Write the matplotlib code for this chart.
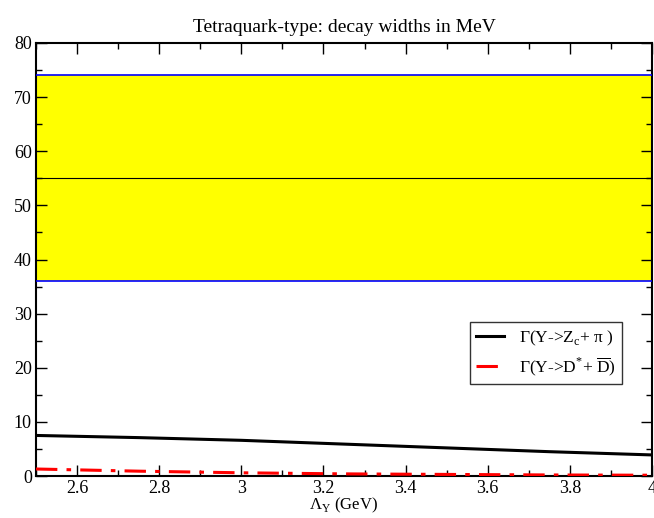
import numpy as np
import matplotlib
matplotlib.use('Agg')
import matplotlib.pyplot as plt
from matplotlib.ticker import MultipleLocator

plt.rcParams['font.family'] = ['Liberation Serif', 'DejaVu Serif']
plt.rcParams['mathtext.fontset'] = 'custom'
plt.rcParams['mathtext.rm'] = 'Liberation Serif'

# data
lam = [2.5, 2.75, 3.0, 3.25, 3.5, 3.75, 4.0]
width_zc_pi = [7.5, 7.1, 6.6, 5.9, 5.2, 4.5, 3.9]
width_dstar_d = [1.3, 0.9, 0.6, 0.4, 0.3, 0.2, 0.15]
exp_central = 55
exp_low = 36
exp_high = 74

fig = plt.figure(figsize=(6.54, 5.18), dpi=100)
ax = fig.add_axes([0.055, 0.081, 0.942, 0.836])

ax.axhspan(exp_low, exp_high, color='yellow', lw=0, zorder=0)
ax.axhline(exp_high, color='blue', lw=1.2, zorder=3)
ax.axhline(exp_low, color='blue', lw=1.2, zorder=3)
ax.axhline(exp_central, color='black', lw=0.8, zorder=3)

ax.plot(lam, width_zc_pi, color='black', lw=2.2, zorder=4, label='Γ(Y->Z$_{\\rm c}$+ π )')
ax.plot(lam, width_dstar_d, color='red', lw=2.2, dashes=[7, 3, 1.5, 3], zorder=4,
        label='Γ(Y->D$^{*}$+ $\\overline{\\rm D}$)')

ax.set_xlim(2.5, 4)
ax.set_ylim(0, 80)
ax.xaxis.set_minor_locator(MultipleLocator(0.1))
ax.yaxis.set_major_locator(MultipleLocator(10))
ax.yaxis.set_minor_locator(MultipleLocator(5))
ax.set_xticks([2.6, 2.8, 3.0, 3.2, 3.4, 3.6, 3.8, 4.0])
ax.set_xticklabels(['2.6', '2.8', '3', '3.2', '3.4', '3.6', '3.8', '4'])
ax.tick_params(which='both', direction='in', top=True, right=True, labelsize=13, pad=3)
ax.tick_params(which='major', length=8, width=1)
ax.tick_params(which='minor', length=4, width=1)
for s in ax.spines.values():
    s.set_linewidth(1.5)

ax.set_xlabel('Λ$_{\\rm Y}$ (GeV)', fontsize=12, labelpad=-1)
ax.set_title('Tetraquark-type: decay widths in MeV', fontsize=14, pad=8)

leg = ax.legend(loc='upper left', bbox_to_anchor=(0.69, 0.375), fontsize=12.5,
                frameon=True, fancybox=False, edgecolor='black', handlelength=1.6,
                borderpad=0.35, labelspacing=0.45, handletextpad=0.9)
leg.get_frame().set_linewidth(1)

fig.savefig('out.png', dpi=100)
